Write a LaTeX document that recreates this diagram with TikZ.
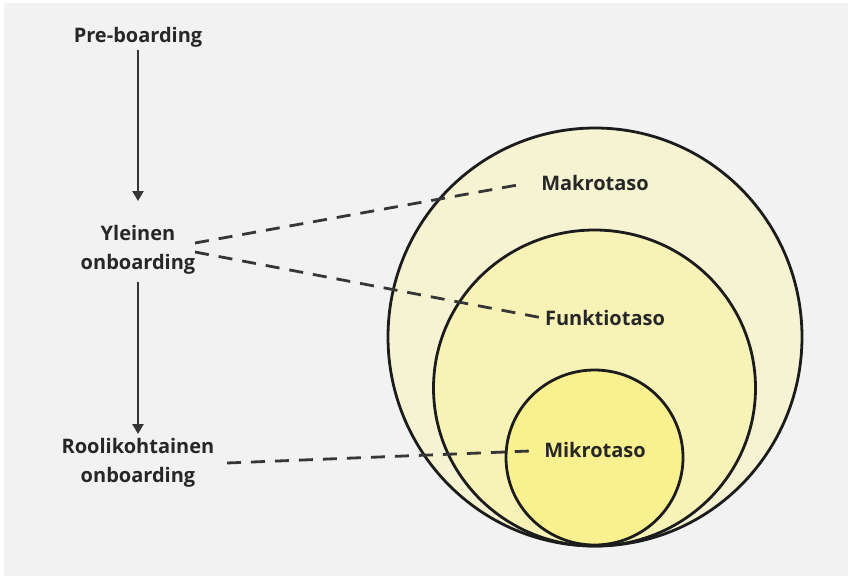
\documentclass[tikz,border=0pt]{standalone}
\usepackage{fontspec}
\setmainfont{Open Sans}
\usetikzlibrary{arrows.meta}
\definecolor{bgray}{HTML}{F2F2F2}
\definecolor{ink}{HTML}{1C1C1C}
\definecolor{linegray}{HTML}{363636}
\definecolor{macrofill}{HTML}{F5F3D1}
\definecolor{funcfill}{HTML}{F7F2B6}
\definecolor{microfill}{HTML}{F9F18F}
\tikzset{
  label text/.style={font=\bfseries\fontsize{20}{29}\selectfont, text=ink!95, align=center, inner sep=0pt},
  level ring/.style={draw=ink, line width=2.8pt},
  flow arrow/.style={draw=linegray, line width=2.8pt, -{Triangle[length=10pt,width=11pt]}},
  link line/.style={draw=linegray, line width=2.8pt, dash pattern=on 14pt off 10pt},
}
\begin{document}
\begin{tikzpicture}[x=1pt,y=-1pt]
  \useasboundingbox (0,0) rectangle (848,576);
  \fill[white] (0,0) rectangle (848,576);
  \fill[bgray] (4,3) rectangle (848,576);

  % nested levels
  \draw[level ring, fill=macrofill] (595,337) circle[x radius=207, y radius=209];
  \draw[level ring, fill=funcfill] (594.5,388) circle[x radius=161, y radius=158];
  \draw[level ring, fill=microfill] (594.5,457.5) circle[x radius=88.5, y radius=87.5];

  % left column
  \node[label text] (pre) at (138,37) {Pre-boarding};
  \node[label text] (yle) at (138,250) {Yleinen\\onboarding};
  \node[label text] (rool) at (138,463) {Roolikohtainen\\onboarding};

  % level labels
  \node[label text] (makro) at (595,183) {Makrotaso};
  \node[label text] (funk) at (605,318) {Funktiotaso};
  \node[label text] (mikro) at (595,450) {Mikrotaso};

  \coordinate (a0) at (138,50);
  \coordinate (a1) at (138,201);
  \coordinate (b0) at (138,282);
  \coordinate (b1) at (138,434);
  \draw[flow arrow] (a0) -- (a1);
  \draw[flow arrow] (b0) -- (b1);

  \coordinate (yleA) at (195,243);
  \coordinate (yleB) at (195,252);
  \coordinate (roolA) at (227,463);
  \draw[link line] (yleA) -- ([xshift=-18pt,yshift=-1pt]makro.west);
  \draw[link line] (yleB) -- ([xshift=-2pt,yshift=0pt]funk.west);
  \draw[link line] (roolA) -- ([xshift=-14pt,yshift=-1pt]mikro.west);
\end{tikzpicture}
\end{document}
